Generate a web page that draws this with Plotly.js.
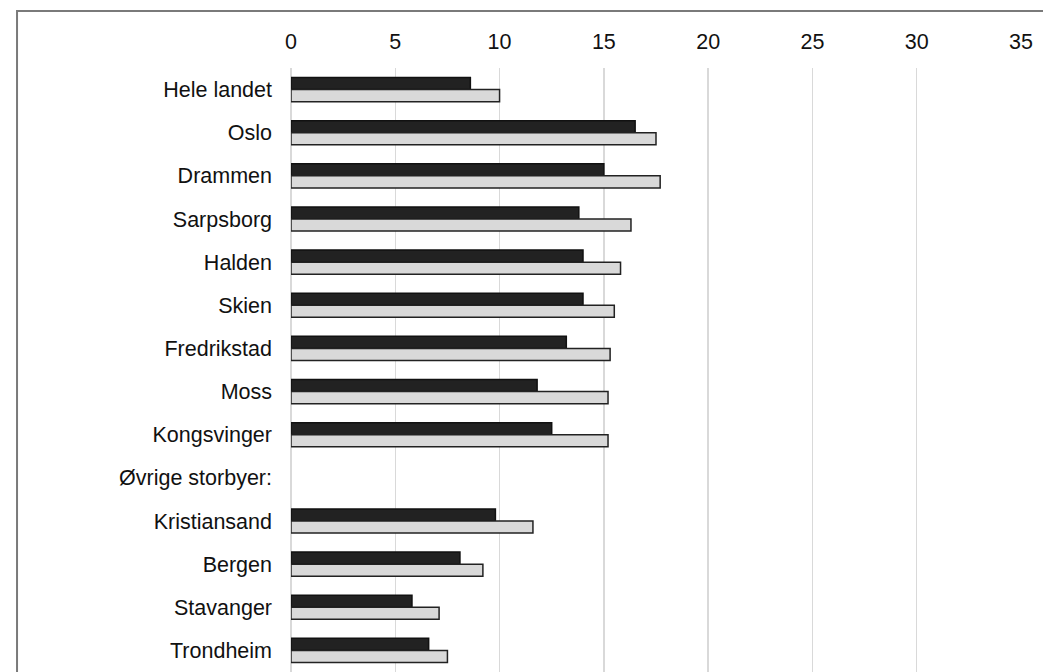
<!DOCTYPE html>
<html>
<head>
<meta charset="utf-8">
<script src="https://cdn.plot.ly/plotly-3.0.1.min.js"></script>
<style>html,body{margin:0;padding:0;background:#fff;}#chart{width:1043px;height:672px;}</style>
</head>
<body>
<div id="chart"></div>
<script>
const categories = ["Hele landet", "Oslo", "Drammen", "Sarpsborg", "Halden", "Skien", "Fredrikstad", "Moss", "Kongsvinger", "Øvrige storbyer:", "Kristiansand", "Bergen", "Stavanger", "Trondheim"];
const seriesDark = [8.6, 16.5, 15.0, 13.8, 14.0, 14.0, 13.2, 11.8, 12.5, null, 9.8, 8.1, 5.8, 6.6];
const seriesLight = [10.0, 17.5, 17.7, 16.3, 15.8, 15.5, 15.3, 15.2, 15.2, null, 11.6, 9.2, 7.1, 7.5];
const xTicks = [0, 5, 10, 15, 20, 25, 30, 35];

const traces = [
  {type: 'bar', orientation: 'h', y: categories, x: seriesDark, name: 'A',
   marker: {color: '#222222', line: {color: '#111111', width: 1.5}}},
  {type: 'bar', orientation: 'h', y: categories, x: seriesLight, name: 'B',
   marker: {color: '#d9d9d9', line: {color: '#222222', width: 1.5}}}
];

const layout = {
  width: 1043, height: 672,
  margin: {l: 291, r: 22, t: 68, b: 0, pad: 0},
  paper_bgcolor: '#ffffff', plot_bgcolor: '#ffffff',
  showlegend: false,
  barmode: 'group', bargap: 0.44, bargroupgap: 0,
  font: {family: 'Liberation Sans, Arial, sans-serif', size: 21.5, color: '#111111'},
  xaxis: {
    side: 'top', range: [0, 35], tickvals: xTicks, ticktext: xTicks.map(String),
    showgrid: true, gridcolor: '#d9d9d9', gridwidth: 1.5,
    zeroline: true, zerolinecolor: '#d9d9d9', zerolinewidth: 1.5,
    showline: false, ticks: '', ticklabelstandoff: 14,
    tickfont: {size: 21.5, color: '#111111'}, fixedrange: true
  },
  yaxis: {
    type: 'category', autorange: 'reversed', categoryorder: 'array', categoryarray: categories,
    showgrid: false, zeroline: false, showline: false, ticks: '', ticklabelstandoff: 18,
    tickfont: {size: 21.5, color: '#111111'}, fixedrange: true
  },
  shapes: [{
    type: 'path', xref: 'paper', yref: 'paper',
    path: 'M -0.3753,-0.05 L -0.3753,1.0944 L 1.1,1.0944',
    line: {color: '#7a7a7a', width: 2}
  }]
};

Plotly.newPlot('chart', traces, layout, {displayModeBar: false, staticPlot: true});
</script>
</body>
</html>
